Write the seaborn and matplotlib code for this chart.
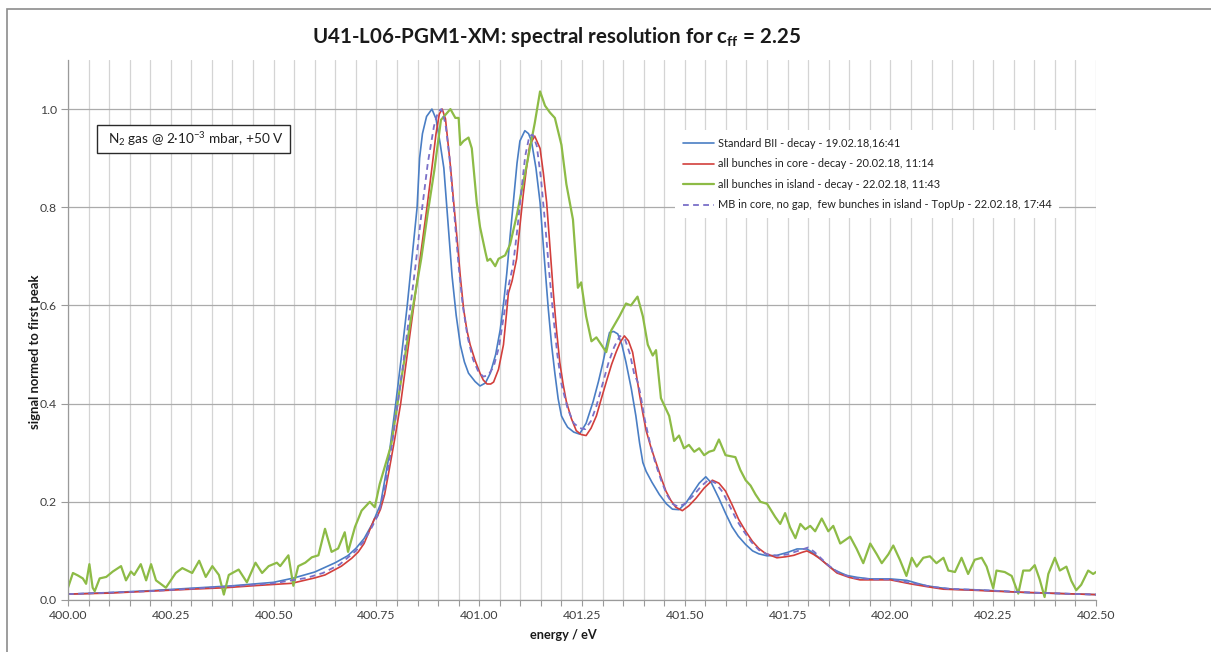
import numpy as np
import pandas as pd
import matplotlib
matplotlib.use("Agg")
import matplotlib.pyplot as plt
from matplotlib.patches import Rectangle
from matplotlib.ticker import MultipleLocator, FormatStrFormatter
import seaborn as sns

# ---- spectra (energy in eV, signal normalised to the first peak) ----
std_energy = [400.00, 400.10, 400.20, 400.30, 400.40, 400.50, 400.55, 400.60, 400.65, 400.68,
              400.70, 400.72, 400.74, 400.76, 400.78, 400.797, 400.81, 400.825, 400.837, 400.849,
              400.855, 400.862, 400.872, 400.885, 400.895, 400.905, 400.914, 400.924, 400.934, 400.944,
              400.954, 400.964, 400.974, 400.99, 401.002, 401.015, 401.027, 401.04, 401.051, 401.06,
              401.067, 401.075, 401.083, 401.092, 401.099, 401.111, 401.12, 401.127, 401.138, 401.148,
              401.158, 401.168, 401.176, 401.184, 401.192, 401.20, 401.208, 401.215, 401.23, 401.244,
              401.26, 401.277, 401.29, 401.301, 401.31, 401.317, 401.327, 401.337, 401.347, 401.357,
              401.37, 401.381, 401.39, 401.398, 401.406, 401.42, 401.438, 401.455, 401.47, 401.486,
              401.503, 401.519, 401.535, 401.551, 401.565, 401.583, 401.60, 401.615, 401.63, 401.648,
              401.665, 401.68, 401.70, 401.724, 401.75, 401.773, 401.797, 401.815, 401.829, 401.845,
              401.862, 401.88, 401.894, 401.92, 401.95, 402.00, 402.04, 402.065, 402.088, 402.12,
              402.153, 402.20, 402.25, 402.33, 402.42, 402.50]
std_signal = [0.012, 0.015, 0.019, 0.024, 0.029, 0.036, 0.045, 0.057, 0.076, 0.090,
              0.105, 0.125, 0.155, 0.195, 0.290, 0.400, 0.490, 0.600, 0.700, 0.800,
              0.900, 0.950, 0.985, 1.000, 0.980, 0.930, 0.880, 0.770, 0.660, 0.580,
              0.520, 0.485, 0.462, 0.445, 0.436, 0.442, 0.462, 0.500, 0.550, 0.610,
              0.665, 0.740, 0.810, 0.890, 0.935, 0.956, 0.950, 0.935, 0.880, 0.810,
              0.700, 0.593, 0.520, 0.462, 0.410, 0.375, 0.362, 0.352, 0.342, 0.338,
              0.360, 0.404, 0.445, 0.484, 0.520, 0.545, 0.547, 0.542, 0.520, 0.484,
              0.430, 0.375, 0.320, 0.280, 0.262, 0.240, 0.215, 0.196, 0.185, 0.184,
              0.198, 0.218, 0.238, 0.251, 0.238, 0.207, 0.175, 0.149, 0.130, 0.113,
              0.100, 0.094, 0.090, 0.091, 0.097, 0.104, 0.104, 0.094, 0.084, 0.073,
              0.062, 0.055, 0.050, 0.046, 0.043, 0.043, 0.040, 0.034, 0.029, 0.025,
              0.022, 0.021, 0.019, 0.015, 0.013, 0.011]

core_energy = [400.00, 400.10, 400.20, 400.30, 400.383, 400.45, 400.544, 400.60, 400.625, 400.665,
               400.69, 400.706, 400.72, 400.73, 400.745, 400.752, 400.76, 400.77, 400.78, 400.795,
               400.809, 400.825, 400.841, 400.857, 400.873, 400.885, 400.895, 400.903, 400.91, 400.918,
               400.93, 400.938, 400.946, 400.954, 400.962, 400.97, 400.978, 400.99, 401.002, 401.01,
               401.019, 401.028, 401.035, 401.047, 401.059, 401.066, 401.071, 401.08, 401.091, 401.10,
               401.107, 401.115, 401.123, 401.135, 401.148, 401.156, 401.164, 401.172, 401.18, 401.188,
               401.196, 401.204, 401.212, 401.224, 401.236, 401.248, 401.26, 401.272, 401.285, 401.297,
               401.31, 401.322, 401.333, 401.343, 401.353, 401.363, 401.373, 401.382, 401.39, 401.398,
               401.406, 401.418, 401.43, 401.442, 401.454, 401.466, 401.478, 401.494, 401.51, 401.527,
               401.547, 401.567, 401.583, 401.599, 401.615, 401.631, 401.648, 401.664, 401.68, 401.696,
               401.724, 401.745, 401.765, 401.785, 401.797, 401.813, 401.829, 401.85, 401.87, 401.90,
               401.926, 402.00, 402.048, 402.09, 402.129, 402.20, 402.25, 402.35, 402.42, 402.50]
core_signal = [0.012, 0.014, 0.018, 0.022, 0.025, 0.029, 0.034, 0.045, 0.051, 0.069,
               0.085, 0.098, 0.115, 0.135, 0.165, 0.170, 0.185, 0.215, 0.260, 0.330,
               0.400, 0.500, 0.600, 0.700, 0.800, 0.880, 0.950, 0.990, 1.000, 0.980,
               0.884, 0.810, 0.738, 0.660, 0.593, 0.550, 0.520, 0.488, 0.462, 0.448,
               0.440, 0.440, 0.444, 0.470, 0.520, 0.580, 0.625, 0.650, 0.695, 0.770,
               0.825, 0.880, 0.927, 0.945, 0.920, 0.870, 0.810, 0.720, 0.629, 0.550,
               0.484, 0.440, 0.404, 0.370, 0.345, 0.337, 0.335, 0.350, 0.375, 0.410,
               0.447, 0.480, 0.505, 0.525, 0.538, 0.528, 0.505, 0.460, 0.418, 0.380,
               0.345, 0.310, 0.280, 0.250, 0.222, 0.203, 0.189, 0.182, 0.192, 0.207,
               0.228, 0.244, 0.238, 0.222, 0.194, 0.164, 0.140, 0.120, 0.105, 0.095,
               0.086, 0.088, 0.091, 0.097, 0.100, 0.093, 0.084, 0.069, 0.055, 0.046,
               0.041, 0.041, 0.033, 0.027, 0.022, 0.020, 0.018, 0.015, 0.013, 0.011]

island_energy = [400.000, 400.012, 400.024, 400.036, 400.044, 400.052, 400.060, 400.065, 400.077, 400.093,
                 400.109, 400.129, 400.141, 400.153, 400.161, 400.177, 400.190, 400.202, 400.214, 400.238,
                 400.262, 400.278, 400.302, 400.319, 400.335, 400.351, 400.367, 400.379, 400.391, 400.415,
                 400.435, 400.456, 400.472, 400.488, 400.508, 400.516, 400.536, 400.548, 400.560, 400.577,
                 400.593, 400.609, 400.625, 400.641, 400.657, 400.673, 400.681, 400.698, 400.714, 400.734,
                 400.746, 400.758, 400.786, 400.810, 400.835, 400.859, 400.875, 400.891, 400.907, 400.930,
                 400.942, 400.950, 400.954, 400.962, 400.974, 400.982, 400.994, 401.002, 401.015, 401.020,
                 401.027, 401.039, 401.047, 401.063, 401.075, 401.091, 401.115, 401.135, 401.148, 401.160,
                 401.172, 401.184, 401.200, 401.212, 401.228, 401.240, 401.248, 401.260, 401.273, 401.285,
                 401.297, 401.309, 401.321, 401.341, 401.357, 401.369, 401.385, 401.398, 401.410, 401.422,
                 401.430, 401.442, 401.462, 401.474, 401.486, 401.498, 401.510, 401.523, 401.535, 401.547,
                 401.559, 401.571, 401.583, 401.599, 401.623, 401.635, 401.648, 401.660, 401.672, 401.684,
                 401.700, 401.720, 401.732, 401.744, 401.756, 401.769, 401.781, 401.793, 401.805, 401.817,
                 401.833, 401.849, 401.861, 401.878, 401.890, 401.902, 401.918, 401.934, 401.951, 401.967,
                 401.979, 401.995, 402.007, 402.023, 402.039, 402.052, 402.064, 402.080, 402.096, 402.112,
                 402.129, 402.141, 402.157, 402.173, 402.189, 402.205, 402.222, 402.234, 402.250, 402.258,
                 402.278, 402.295, 402.311, 402.323, 402.339, 402.351, 402.363, 402.375, 402.384, 402.400,
                 402.412, 402.428, 402.440, 402.452, 402.464, 402.481, 402.493, 402.500]
island_signal = [0.025, 0.055, 0.050, 0.044, 0.033, 0.073, 0.025, 0.018, 0.044, 0.047,
                 0.058, 0.069, 0.040, 0.058, 0.051, 0.073, 0.040, 0.073, 0.040, 0.025,
                 0.055, 0.065, 0.055, 0.080, 0.047, 0.069, 0.051, 0.011, 0.051, 0.062,
                 0.036, 0.076, 0.055, 0.069, 0.076, 0.069, 0.091, 0.029, 0.069, 0.076,
                 0.087, 0.091, 0.145, 0.098, 0.105, 0.138, 0.098, 0.149, 0.182, 0.200,
                 0.189, 0.236, 0.316, 0.447, 0.578, 0.695, 0.789, 0.876, 0.978, 1.000,
                 0.982, 0.982, 0.927, 0.935, 0.942, 0.920, 0.810, 0.760, 0.709, 0.691,
                 0.695, 0.680, 0.695, 0.702, 0.724, 0.782, 0.884, 0.971, 1.036, 1.007,
                 0.993, 0.982, 0.927, 0.847, 0.775, 0.636, 0.647, 0.578, 0.527, 0.535,
                 0.520, 0.505, 0.549, 0.578, 0.604, 0.600, 0.618, 0.578, 0.520, 0.498,
                 0.509, 0.411, 0.375, 0.324, 0.335, 0.309, 0.316, 0.302, 0.309, 0.295,
                 0.302, 0.305, 0.327, 0.295, 0.291, 0.265, 0.244, 0.233, 0.215, 0.200,
                 0.196, 0.169, 0.155, 0.177, 0.148, 0.126, 0.155, 0.144, 0.151, 0.140,
                 0.166, 0.140, 0.151, 0.115, 0.122, 0.129, 0.104, 0.075, 0.115, 0.093,
                 0.075, 0.093, 0.111, 0.082, 0.049, 0.086, 0.068, 0.086, 0.089, 0.075,
                 0.086, 0.060, 0.057, 0.086, 0.053, 0.082, 0.086, 0.068, 0.024, 0.060,
                 0.057, 0.049, 0.013, 0.060, 0.060, 0.071, 0.042, 0.006, 0.053, 0.086,
                 0.060, 0.068, 0.039, 0.020, 0.031, 0.060, 0.053, 0.057]

topup_energy = [400.00, 400.10, 400.20, 400.30, 400.40, 400.50, 400.58, 400.62, 400.66, 400.70,
                400.72, 400.74, 400.755, 400.77, 400.785, 400.80, 400.815, 400.83, 400.845, 400.86,
                400.875, 400.89, 400.90, 400.908, 400.918, 400.928, 400.94, 400.95, 400.96, 400.972,
                400.985, 400.998, 401.01, 401.022, 401.035, 401.048, 401.06, 401.07, 401.082, 401.092,
                401.102, 401.112, 401.122, 401.13, 401.14, 401.15, 401.16, 401.17, 401.18, 401.19,
                401.20, 401.215, 401.23, 401.245, 401.258, 401.272, 401.285, 401.30, 401.315, 401.328,
                401.342, 401.355, 401.367, 401.377, 401.385, 401.392, 401.402, 401.414, 401.428, 401.442,
                401.456, 401.47, 401.484, 401.50, 401.52, 401.54, 401.558, 401.575, 401.592, 401.61,
                401.628, 401.645, 401.662, 401.68, 401.70, 401.725, 401.75, 401.775, 401.80, 401.815,
                401.83, 401.85, 401.875, 401.91, 401.96, 402.00, 402.05, 402.10, 402.14, 402.25,
                402.35, 402.50]
topup_signal = [0.012, 0.015, 0.018, 0.023, 0.028, 0.034, 0.045, 0.055, 0.072, 0.100,
                0.120, 0.150, 0.175, 0.225, 0.300, 0.390, 0.480, 0.580, 0.680, 0.790,
                0.890, 0.965, 0.995, 1.000, 0.970, 0.900, 0.780, 0.680, 0.600, 0.535,
                0.490, 0.465, 0.455, 0.458, 0.475, 0.515, 0.580, 0.635, 0.680, 0.750,
                0.830, 0.905, 0.945, 0.948, 0.925, 0.860, 0.770, 0.670, 0.580, 0.500,
                0.440, 0.390, 0.360, 0.350, 0.348, 0.365, 0.395, 0.440, 0.485, 0.515,
                0.538, 0.530, 0.500, 0.460, 0.445, 0.420, 0.370, 0.325, 0.280, 0.245,
                0.215, 0.196, 0.190, 0.196, 0.212, 0.232, 0.245, 0.238, 0.220, 0.190,
                0.160, 0.138, 0.118, 0.102, 0.093, 0.090, 0.093, 0.100, 0.107, 0.098,
                0.086, 0.070, 0.055, 0.045, 0.042, 0.042, 0.035, 0.027, 0.023, 0.019,
                0.015, 0.011]

series_labels = ["Standard BII - decay - 19.02.18,16:41",
                 "all bunches in core - decay - 20.02.18, 11:14",
                 "all bunches in island - decay - 22.02.18, 11:43",
                 "MB in core, no gap,  few bunches in island - TopUp - 22.02.18, 17:44"]
x_ticks = [400.00, 400.25, 400.50, 400.75, 401.00, 401.25, 401.50, 401.75, 402.00, 402.25, 402.50]
y_ticks = [0.0, 0.2, 0.4, 0.6, 0.8, 1.0]

# ---- style ----
sns.set_theme(style="white")
plt.rcParams['font.family'] = ['Lato', 'DejaVu Sans']
plt.rcParams['mathtext.fontset'] = 'custom'
plt.rcParams['mathtext.rm'] = 'Lato'
plt.rcParams['mathtext.it'] = 'Lato:italic'
plt.rcParams['mathtext.bf'] = 'Lato:bold'

W, H = 1211, 652
fig = plt.figure(figsize=(W / 100, H / 100), dpi=100)
fig.patch.set_facecolor('white')
ax = fig.add_axes([68 / W, 52 / H, 1028 / W, 540 / H])

series = [
    (std_energy, std_signal, '#4A7EC4', 1.2, '-'),
    (core_energy, core_signal, '#D23F3C', 1.2, '-'),
    (island_energy, island_signal, '#8DBB46', 1.6, '-'),
    (topup_energy, topup_signal, '#7A70C8', 1.3, '--'),
]
for (e, s, col, lw, ls), lab in zip(series, series_labels):
    df = pd.DataFrame({'energy': e, 'signal': s})
    sns.lineplot(data=df, x='energy', y='signal', ax=ax, color=col, linewidth=lw,
                 linestyle=ls, label=lab, estimator=None, sort=False)
ax.lines[-1].set_dashes((3.2, 2.4))

ax.set_xlim(400.0, 402.5)
ax.set_ylim(0.0, 1.1)
ax.set_xticks(x_ticks)
ax.set_yticks(y_ticks)
ax.xaxis.set_minor_locator(MultipleLocator(0.05))
ax.xaxis.set_major_formatter(FormatStrFormatter('%.2f'))
ax.yaxis.set_major_formatter(FormatStrFormatter('%.1f'))
ax.set_xlabel('')
ax.set_ylabel('')

ax.set_axisbelow(True)
ax.grid(which='both', axis='x', color='#d4d4d4', linewidth=0.9)
ax.grid(which='major', axis='y', color='#ababab', linewidth=0.9)
for side in ('top', 'right'):
    ax.spines[side].set_visible(False)
for side in ('left', 'bottom'):
    ax.spines[side].set_color('#9a9a9a')
    ax.spines[side].set_linewidth(0.9)
ax.tick_params(axis='x', which='both', direction='out', length=4, width=0.8,
               color='#9a9a9a', labelsize=8.8, labelcolor='#404040', pad=3, bottom=True)
ax.tick_params(axis='y', which='major', direction='out', length=5, width=0.8,
               color='#9a9a9a', labelsize=8.8, labelcolor='#404040', pad=3, left=True)

# legend on a white panel without a frame line
leg = ax.legend(loc='upper left', bbox_to_anchor=((675 - 68) / 1028, (600 - 130) / 540),
                borderaxespad=0, frameon=True, fancybox=False, fontsize=7.95,
                handlelength=2.8, handletextpad=0.35, labelspacing=0.86, borderpad=0.72)
leg.get_frame().set_facecolor('white')
leg.get_frame().set_edgecolor('none')
leg.get_frame().set_alpha(1.0)
for t in leg.get_texts():
    t.set_color('#202020')

# measurement conditions box
ax.add_patch(Rectangle(((97 - 68) / 1028, (600 - 153) / 540), 193 / 1028, 28 / 540,
                       transform=ax.transAxes, facecolor='white', edgecolor='#2a2a2a',
                       linewidth=1.0, zorder=5))
ax.text((108 - 68) / 1028, (600 - 139) / 540, r'N$_{2}$ gas @ 2·10$^{-3}$ mbar, +50 V',
        transform=ax.transAxes, ha='left', va='center', fontsize=9.8, color='#202020', zorder=6)

# titles and axis labels
fig.text(557 / W, 1 - 37 / H, r'U41-L06-PGM1-XM: spectral resolution for c$_{\mathbf{ff}}$ = 2.25',
         ha='center', va='center', fontsize=14.8, fontweight='bold', color='#1a1a1a')
fig.text(35 / W, 1 - 352 / H, 'signal normed to first peak', rotation=90,
         ha='center', va='center', fontsize=9.4, fontweight='bold', color='#1a1a1a')
fig.text(563 / W, 1 - 635 / H, 'energy / eV', ha='center', va='center',
         fontsize=9.2, fontweight='bold', color='#1a1a1a')

# outer chart frame
fig.add_artist(Rectangle((7 / W, -0.05), 1.2, 1.05 - 9 / H, transform=fig.transFigure,
                         fill=False, edgecolor='#8c8c8c', linewidth=1.2))

fig.savefig('out.png', dpi=100)
